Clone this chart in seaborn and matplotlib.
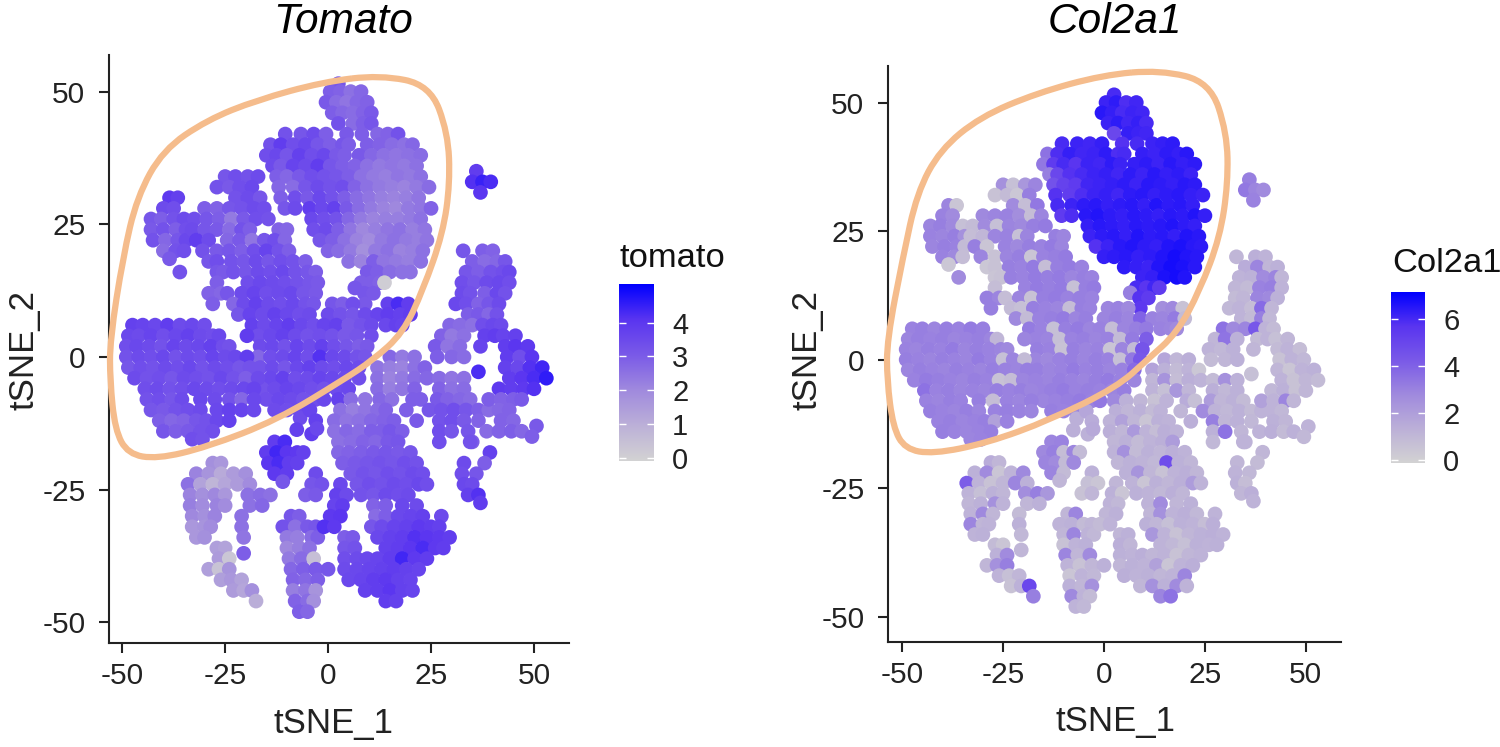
import numpy as np
import pandas as pd
import matplotlib
matplotlib.use("Agg")
import matplotlib.pyplot as plt
import seaborn as sns
from matplotlib.colors import LinearSegmentedColormap
from matplotlib.path import Path
from matplotlib.patches import PathPatch

sns.set_theme(style="ticks")
plt.rcParams['font.family'] = ['Liberation Sans', 'DejaVu Sans']
plt.rcParams['axes.unicode_minus'] = False

# Cells, cluster by cluster (one line = one row of cells)
top_x = [2.5, 0.5,3,5.5,8, -0.5,2,4.5,7,9.5, 1,3.5,6,8.5,10.5, 2.5,6,8.5,10.5]
top_y = [51.5] + [50]*4 + [48]*5 + [46]*5 + [44]*4
top_tomato = [3.2, 3.0,2.9,2.6,2.8, 3.1,2.7,2.5,2.8,2.9, 3.0,2.8,2.7,2.9,3.1, 3.3,2.7,3.0,3.2]
top_col2a1 = [6.0, 6.2,6.4,5.9,6.1, 6.5,6.3,6.0,6.2,6.1, 6.2,6.4,6.1,6.3,6.0, 5.0,6.3,6.2,6.1]

upper_x = [-10.4,-6.6,-3.5,-0.5,4.5,8.2,12,14.5,17,
    -14,-11.5,-8.5,-5.5,-2.5,0.5,3.5,5,9.5,12.5,15.5,18.5,20.5,
    -15,-12.5,-10,-7,-4,-1,2,4,7.5,10.5,13.5,16.5,19.5,22.5,
    -13.5,-11.5,-8.5,-5.5,-2.5,.5,3.5,6.5,9.5,12.5,15.5,18.5,21.5,
    -12.5,-10,-7,-4,-1,2,5,8,11,14,17,20,22.5,
    -12,-8.5,-5.5,-2.5,.5,3.5,6.5,9.5,12.5,15.5,18.5,21.5,24.5,
    -11.5,-8,-5,-2,1,4,7,10,13,16,19,22,
    -10.5,-8,-4.5,-1.5,1.5,4.5,7.5,10.5,13.5,16.5,19.5,22.5,25,
    -4,-1,2,5,8,11,14,17,20,22.5,
    -3.5,-.5,2.5,5.5,8.5,11.5,14.5,17.5,20.5,23.5,
    -2,1,4,7,10,13,16,19,22,24,
    0,2.5,5.5,8.5,11.5,14.5,17.5,20.5,23,
    5,8,11,13.5,16.5,19.5,22.5,
    9.5,12,15,18,20,
    8,10.5,12.5,13.7,
    6.5,
    8.8,11,
    9]
upper_y = ([42]*9 + [40]*13 + [38]*14 + [36]*13 + [34]*13 + [32]*13 + [30]*12 + [28]*13
           + [26]*10 + [24]*10 + [22]*10 + [20]*9 + [18]*7 + [16]*5 + [14]*4 + [13] + [12]*2 + [10])
upper_tomato = [3.3,3.2,3.5,3.0,3.1,3.0,2.8,2.9,3.3,
    3.3,3.9,3.4,3.6,3.2,3.0,3.2,3.0,3.0,2.9,2.7,2.6,2.8,
    3.4,3.6,3.2,3.8,3.4,3.6,3.1,3.0,3.1,2.8,2.6,2.5,2.6,2.7,
    3.5,3.1,3.7,3.5,3.9,3.2,3.0,2.9,2.6,2.4,2.5,2.4,2.6,
    3.0,2.8,3.1,3.4,3.3,3.2,3.0,2.6,2.4,2.3,2.5,2.4,2.6,
    2.8,2.7,3.2,3.5,3.3,3.4,2.9,2.6,2.4,2.3,2.2,2.4,2.7,
    3.0,3.4,3.1,3.6,3.3,3.0,2.7,2.5,2.3,2.2,2.3,2.5,
    3.2,3.5,3.9,3.6,3.8,3.1,2.7,2.4,2.2,2.1,2.4,2.5,2.9,
    3.6,3.4,3.3,2.8,2.4,2.2,2.3,2.3,2.4,2.6,
    3.4,3.5,3.0,2.5,2.1,2.3,2.5,2.6,2.3,2.5,
    3.2,3.0,2.6,2.2,2.0,2.4,2.6,2.4,2.3,2.5,
    2.9,2.7,2.4,1.9,2.4,2.6,2.2,2.3,2.6,
    2.6,2.2,3.0,2.5,2.4,2.3,2.6,
    3.1,3.0,2.7,2.6,2.6,
    3.0,3.0,2.9,0.2,
    3.2,
    3.2,3.1,
    3.1]
upper_col2a1 = [6.0,6.2,6.1,6.3,5.8,6.0,6.2,6.3,6.4,
    3.6,5.9,6.3,6.1,6.2,6.4,5.9,6.0,6.3,6.2,6.4,6.3,6.5,
    3.4,5.5,6.0,5.7,6.2,6.1,6.4,6.2,6.3,6.4,6.2,6.5,6.3,6.4,
    3.2,5.0,5.8,6.0,6.2,6.3,6.1,6.4,6.2,6.5,6.3,6.4,6.2,
    4.6,5.2,5.5,6.1,6.2,6.3,6.4,6.2,6.5,6.4,6.3,6.5,6.4,
    5.8,5.4,5.9,6.2,6.3,6.1,6.4,6.5,6.3,6.4,6.5,6.3,6.2,
    6.0,6.2,6.4,6.5,6.3,6.4,6.5,6.3,6.6,6.4,6.5,6.3,
    5.5,5.9,6.5,6.6,6.4,6.3,6.5,6.4,6.3,6.5,6.4,6.6,6.3,
    6.3,6.5,6.4,6.3,6.5,6.4,6.5,6.6,6.4,6.3,
    6.2,6.4,6.5,6.3,6.6,6.4,6.5,6.3,6.6,6.5,
    5.8,6.2,6.5,6.6,6.4,6.3,6.6,6.7,6.5,6.4,
    6.3,6.4,6.5,6.3,6.4,6.6,6.8,6.6,6.5,
    6.4,6.3,6.2,6.6,6.8,6.7,6.5,
    6.2,6.3,6.7,6.8,6.6,
    6.0,5.7,6.1,5.5,
    3.2,
    5.8,5.5,
    5.6]

lobe_x = [-38.5,-36.5, -40,-37.5, -43,-40.5,-37.5,-35, -43,-40,-37,-34.5, -42.5,-39.5,-36.5,-34.5, -40,-37,-35, -38.5]
lobe_y = [30]*2 + [28]*2 + [26]*4 + [24]*4 + [22]*4 + [20]*3 + [18.5]
lobe_tomato = [4.0,3.8, 3.5,3.4, 3.2,3.0,3.3,3.5, 3.1,3.3,3.0,3.4, 3.3,2.8,3.2,3.6, 2.7,3.3,3.4, 3.1]
lobe_col2a1 = [3.0,0.6, 3.1,2.8, 3.0,3.2,2.9,0.8, 3.1,3.0,3.2,2.6, 3.0,3.2,3.1,1.0, 3.1,2.9,0.9, 0.5]

mid_x = [-25,-22.5,-19.5,-17,
    -27,-24,-21.5,-18.5,
    -22.5,-19.5,-16.5,
    -30,-27,-24,-21,-18,-15.5,
    -32.5,-29.5,-26.5,-23.5,-20.5,-17.5,-14.5,
    -33,-30,-27,-24,-21,-19,-12,-10,
    -32,-29,-24.5,-21.5,-18.5,-15.5,-13,-10.5,
    -30.5,-27,-24,-21,-18,-15,-12,-9.5,
    -29,-27,-23.5,-20.5,-17.5,-14.5,-11.5,-8.5,-5.5,
    -36,-27,-25.5,-23,-20,-17,-14,-11,-8,-5,-3,
    -27,-19.5,-16.5,-13.5,-10.5,-7.5,-4.5,-2.5,
    -29,-26,-24.5,-21,-18,-15,-12,-9,-6,-3,
    -28,-23,-20.5,-17.5,-14.5,-11.5,-8.5,-5.5,-3.5,
    -21.8,-19,-16,-13,-10,-7,-4.5,
    -18.5,-15.5,-12.5,-9.5,-6.5,-3.5]
mid_y = ([34]*4 + [32]*4 + [30]*3 + [28]*6 + [26]*7 + [24]*8 + [22]*8 + [20]*8 + [18]*9
         + [16]*11 + [14]*8 + [12]*10 + [10]*9 + [8]*7 + [6]*6)
mid_tomato = [3.2,3.4,3.3,3.5,
    3.3,3.1,3.4,3.6,
    3.3,3.5,3.2,
    3.0,2.9,3.2,3.3,3.5,3.4,
    3.4,3.2,3.0,2.4,3.1,3.4,3.3,
    3.5,3.2,3.1,2.7,3.3,3.0,2.9,2.8,
    3.9,3.5,2.8,3.1,2.5,3.2,3.4,2.8,
    3.3,3.1,3.2,3.0,3.4,3.7,3.3,3.0,
    3.2,3.4,3.3,3.2,3.5,3.2,3.4,3.3,3.0,
    3.3,3.2,3.1,3.3,3.2,3.5,3.4,3.6,3.3,3.2,3.0,
    3.0,3.4,3.6,3.5,3.4,3.3,3.2,3.1,
    2.9,2.8,3.2,3.5,3.7,3.4,3.5,3.6,3.2,3.1,
    3.0,2.8,3.5,3.8,3.5,3.4,3.6,3.3,3.2,
    3.2,3.7,3.5,3.8,3.6,3.4,3.5,
    3.8,3.5,3.7,3.9,3.6,3.4]
mid_col2a1 = [2.6,0.8,2.4,3.0,
    0.7,1.0,0.5,3.2,
    2.8,0.9,3.4,
    2.9,3.0,3.1,2.7,0.9,3.0,
    1.0,2.8,0.8,3.0,2.9,3.2,3.3,
    0.9,1.2,3.0,3.1,0.8,3.0,3.2,3.0,
    3.2,0.6,3.1,2.9,3.2,3.1,3.3,3.0,
    3.0,0.7,3.0,3.2,0.6,3.1,3.2,3.3,
    0.5,0.7,3.2,3.1,3.3,0.9,3.2,3.3,3.1,
    2.8,0.6,0.7,3.2,3.1,3.3,3.2,3.3,3.0,3.2,3.1,
    0.9,3.1,3.3,3.2,3.3,0.8,3.2,3.3,
    3.2,3.0,0.9,3.0,0.7,3.2,3.3,3.1,3.2,3.1,
    3.2,1.0,0.8,3.2,3.1,3.0,0.9,3.2,3.1,
    2.9,1.0,3.1,3.2,3.3,3.0,3.2,
    3.3,3.1,0.8,3.2,3.3,3.0]

center_x = [1,3.5,6,14.5,17,19.5,
    0,3,6,9,12,14.5,17.5,20,
    -1,2,5,8,10.5,14,16.5,18,
    -17,-14,-11,-8,-5,-2,1,4,7,10.5,
    -16.5,-13.5,-10.5,-7.5,-4.5,-1.5,1.5,4.5,7.5,9.5,
    -17,-14,-11,-8,-5,-2,1,4,7,9,
    -16.5,-13.5,-10.5,-7.5,-4.5,-1.5,1.5,4.5,7.5,
    -14,-11,-8,-5,-2,1,4,7.5,
    -16,-13,-10,-7,-4,-1,2,5,
    -15,-12,-9,-6,-3,-1,2.5,
    -13,-10,-7,-4.5]
center_y = ([10]*6 + [8]*8 + [6]*8 + [4]*10 + [2]*10 + [0]*10 + [-2]*9 + [-4]*8 + [-6]*8 + [-8]*7 + [-10]*4)
center_tomato = [3.2,3.0,3.4,3.8,4.3,3.9,
    3.5,3.3,3.2,3.5,3.7,3.9,3.8,3.9,
    3.7,3.8,3.1,3.3,3.5,3.6,3.8,3.7,
    3.4,3.6,3.8,3.5,3.3,3.4,3.3,3.1,3.2,3.4,
    3.5,3.6,3.3,3.7,3.5,3.8,3.4,3.2,3.0,3.1,
    2.8,3.4,3.5,3.7,3.4,4.2,3.6,3.5,3.3,3.2,
    3.3,3.5,3.2,3.6,3.8,3.5,3.4,3.6,3.5,
    3.6,3.8,3.4,3.5,3.7,3.6,3.5,3.4,
    3.3,3.5,3.7,3.6,3.4,3.3,3.5,3.6,
    3.4,3.6,3.5,3.3,3.4,3.6,3.8,
    3.5,3.4,3.6,3.7]
center_col2a1 = [3.0,3.1,2.9,2.7,2.9,0.7,
    3.0,3.2,3.0,4.0,3.1,3.0,3.3,1.0,
    3.1,0.9,3.0,3.2,3.3,3.1,3.0,2.8,
    3.1,3.0,0.8,3.1,3.2,3.0,3.1,1.0,3.3,4.2,
    3.2,3.1,0.7,3.2,3.0,3.1,0.6,3.0,1.0,4.5,
    3.0,2.9,3.1,3.2,3.0,3.2,3.1,0.8,3.4,4.4,
    3.2,3.0,3.1,3.3,3.1,3.2,3.0,3.1,3.8,
    3.0,3.2,3.1,3.0,3.2,3.3,3.1,3.0,
    3.1,3.2,3.3,3.1,3.2,3.1,3.0,3.2,
    3.0,3.1,3.2,3.3,3.1,3.4,2.9,
    3.2,3.1,3.0,3.1]

low_x = [-47.5,-45,-42,-39,-36,-33,-30,
    -48.5,-46,-43,-40,-37,-34,-31,-28,-26.5,-19.7,
    -49,-46.5,-43.5,-40.5,-37.5,-34.5,-31.5,-28.5,-25.5,-24,
    -49,-46,-43,-40,-37,-34,-31,-28,-25,-22.5,-19.7,
    -48.5,-45.5,-42.5,-39.5,-36.5,-33.5,-30.5,-27.5,-24.5,-21.5,-19,
    -47,-44,-41,-38,-35,-32,-29,-26,-23,-20,-17,
    -44.5,-41.5,-38.5,-35.5,-32.5,-29.5,-26.5,-23.5,-20.5,-18,
    -44,-41,-38,-35.5,-31,-27.5,-24,-21,-18,
    -43,-40,-37,-34,-31,-27,-24,-21,-18,
    -41,-38,-35,-32,-29.5,-27,-24,
    -40,-37,-34,-31,-28,
    -33,-30.5]
low_y = ([6]*7 + [4]*10 + [2]*10 + [0]*11 + [-2]*11 + [-4]*11 + [-6]*10 + [-8]*9 + [-10]*9 + [-12]*7 + [-14]*5 + [-15.5]*2)
low_tomato = [3.8,3.7,3.6,3.9,3.5,3.6,3.4,
    3.6,3.5,3.7,3.4,3.6,3.8,3.5,3.4,3.6,3.9,
    3.4,3.6,3.5,3.3,3.7,3.5,3.6,3.8,3.4,3.3,
    3.3,3.5,3.4,3.6,3.3,3.5,3.4,3.7,3.5,3.6,3.9,
    3.2,3.4,3.3,3.5,3.4,3.6,3.3,3.5,3.4,3.2,3.3,
    3.5,3.3,3.4,3.2,3.5,3.4,3.3,3.6,3.3,3.0,3.5,
    3.4,3.5,3.3,3.4,3.6,3.5,3.4,3.5,3.6,3.7,
    3.3,3.4,3.2,3.5,3.6,3.5,3.3,2.8,3.6,
    3.2,3.1,3.3,3.4,3.5,3.6,3.8,3.7,3.6,
    3.0,2.8,2.9,3.2,3.3,3.6,3.8,
    3.2,3.0,3.1,3.3,3.4,
    3.4,3.3]
low_col2a1 = [3.1,3.2,3.0,3.2,3.1,3.3,3.2,
    3.0,3.2,3.1,3.2,3.0,3.1,3.2,3.0,1.2,3.0,
    3.1,3.0,3.2,3.1,3.3,3.0,3.2,3.1,3.0,2.9,
    3.2,3.1,3.0,3.2,3.1,3.0,3.3,3.1,0.8,3.0,1.0,
    3.0,3.2,3.1,3.0,3.2,3.1,3.0,3.2,3.1,3.0,3.2,
    3.1,3.3,3.2,3.1,3.0,3.2,3.1,0.7,0.9,3.0,3.1,
    3.6,3.1,3.2,3.0,3.1,3.0,3.2,3.1,3.2,3.0,
    3.1,3.0,3.2,3.1,3.2,0.9,3.1,3.0,3.2,
    3.2,3.1,3.0,3.2,3.0,3.1,3.2,3.1,3.0,
    3.1,3.2,3.0,3.1,3.2,2.0,3.1,
    3.2,3.1,3.0,3.1,3.2,
    3.0,3.1]

gap_x = [-6.8,-4.4,-3,-4,-2.7,-7.6]
gap_y = [-11.5,-10,-12,-14.5,-13.5,-13.7]
gap_tomato = [3.5,3.7,3.8,3.9,3.6,3.8]
gap_col2a1 = [1.5,1.8,1.6,1.4,1.7,1.5]

small_x = [-13,-10.5, -15,-12.5,-10,-7.5,-6, -14.5,-12,-9.5,-7.5, -13,-10, -11]
small_y = [-16]*2 + [-18]*5 + [-20]*4 + [-22]*2 + [-23.5]
small_tomato = [3.9,4.3,3.9,4.4,4.1,4.0,3.8,4.1,4.3,3.9,3.8,4.0,3.9,3.2]
small_col2a1 = [3.0,3.1,2.9,3.2,0.9,3.0,1.0,3.0,2.8,1.0,2.9,3.0,1.0,1.2]

right_x = [15,18,21,
    12,15,18,21,23.5,
    12,15,18,21,24,27,30,33,
    12,15,18,21,27,30,33,
    5.5,9,12.5,15.5,20.5,22.5,26.5,29,32,34.5,
    3,6,9,12,14,19,24.5,27.5,30.5,33.5,36.5,39,
    1.5,4.5,7.5,10.5,13.5,16,21.5,27,30,33,36.5,
    1.5,4.5,7.5,10.5,13,15,18,27,30,34,
    2.5,5.5,8.5,11.5,14.5,17,27,35,
    2.5,5,8,11,14,17,20,
    3.5,6.5,9.5,12.5,15.5,18.5,21.5,
    5.5,8.5,11.5,14.5,17.5,20.5,23,
    7,10,13,16,19,22,24,
    8,11,14,17,19.5,
    11,14,18,21.5,
    11.5,14,17,20,23,27.5,
    10.5,13,16,19,22,25,27,
    4,6,12,15,18,21,24,27,29.5,
    4,6.5,14,17,20,23,26,28,
    4,7,9.5,12,15,18,21,24,
    4,7,10,13,16,19,22,
    5,8,11,14,17,20,
    9,12,15,18,20.5,
    14,16.5]
right_y = ([0]*3 + [-2]*5 + [-4]*8 + [-6]*7 + [-8]*10 + [-10]*12 + [-12]*11 + [-14]*10 + [-16]*8 + [-18]*7
           + [-20]*7 + [-22]*7 + [-24]*7 + [-26]*5 + [-28]*4 + [-30]*6 + [-32]*7 + [-34]*9 + [-36]*8
           + [-38]*8 + [-40]*7 + [-42]*6 + [-44]*5 + [-46]*2)
right_tomato = [2.8,2.4,2.6,
    2.5,2.3,2.2,2.6,2.9,
    2.6,2.2,2.4,2.7,2.8,2.7,2.5,2.6,
    2.7,2.3,2.5,2.9,2.9,2.6,2.7,
    2.7,2.5,2.8,2.6,3.0,3.0,3.1,2.9,2.8,2.7,
    2.6,2.3,2.5,2.7,2.9,3.0,3.2,3.3,3.4,3.2,3.0,2.7,
    2.7,2.5,2.6,2.8,2.9,3.0,3.1,3.3,3.4,3.1,2.9,
    2.6,2.8,2.7,3.0,3.0,3.2,3.0,3.4,3.2,3.2,
    2.6,2.7,2.9,2.8,3.1,3.2,3.4,3.0,
    2.8,2.9,3.0,3.1,3.2,3.1,3.2,
    3.0,3.1,3.2,3.3,3.2,3.4,3.3,
    3.1,3.3,3.2,3.4,3.3,3.5,3.4,
    3.2,3.4,3.3,3.5,3.4,3.6,3.4,
    3.3,3.2,3.5,3.4,3.5,
    2.9,3.0,3.6,3.5,
    2.7,3.0,3.6,3.7,3.8,3.5,
    3.2,3.5,3.7,3.8,4.0,3.9,3.8,
    3.0,3.1,3.6,3.8,3.9,4.2,4.1,4.0,3.9,
    3.2,3.3,3.8,3.9,4.1,4.3,4.0,3.9,
    3.4,3.5,3.6,3.7,3.9,4.4,4.0,3.9,
    3.5,3.6,3.7,3.8,3.9,3.8,3.7,
    3.6,3.7,3.9,4.0,3.8,3.7,
    3.8,3.9,4.1,3.8,3.7,
    3.9,3.8]
right_col2a1 = [1.8,1.2,1.5,
    1.9,1.4,1.0,1.3,0.5,
    1.2,2.5,0.9,1.5,1.3,1.0,2.6,1.4,
    1.3,0.8,2.4,1.2,1.5,1.1,1.4,
    1.4,1.2,0.7,1.3,1.6,0.8,2.2,1.2,1.4,1.0,
    1.5,1.2,1.4,1.0,1.3,1.2,2.8,1.3,1.1,1.4,1.0,1.3,
    1.3,2.0,1.2,0.6,1.4,1.3,1.5,3.2,1.2,1.4,1.1,
    1.5,1.2,2.3,1.3,0.9,1.5,1.3,1.4,3.6,1.2,
    1.2,1.4,1.0,1.3,1.5,2.2,1.1,1.3,
    1.3,2.6,1.0,1.4,1.2,1.5,1.3,
    1.2,1.4,1.3,1.1,4.8,1.4,1.2,
    1.4,2.5,1.2,0.7,1.3,1.5,1.2,
    1.3,0.6,1.4,1.2,1.5,2.2,1.3,
    1.4,1.3,1.1,1.5,1.2,
    1.3,2.8,1.2,1.4,
    1.2,2.6,1.3,1.5,1.1,1.3,
    1.4,1.2,0.8,1.4,1.3,0.9,1.5,
    1.2,1.4,2.4,1.3,0.7,1.2,1.4,1.5,1.3,
    1.5,1.2,1.3,1.1,0.8,1.4,1.3,1.4,
    1.4,1.3,1.5,1.2,1.3,0.7,1.2,1.3,
    1.2,1.4,1.3,2.0,0.6,1.3,1.5,
    1.5,1.3,1.4,1.2,1.3,3.0,
    1.2,2.6,1.4,2.8,1.3,
    3.0,3.6]

east_x = [32.8,37.5,40,
    35,38,41,43,
    33.5,36.5,39.5,42.5,44,
    32.5,35.5,38.5,41.5,44,
    32.5,34.5,38,41,43,
    31,33.5,36.5,39,41.5,
    34,36.5,39,41,
    29.5,32,35,37.5,40,42,
    27.5,30,33,38,40.5,42.5,45.5,
    26,29,32,37,43,45.5,48.5,
    26.5,30,33,43.5,46.5,49.5,
    43,46,49,52, 36.5,
    44,47,50,53,
    41.5,44.5,47.5,50,
    39,42,45,47,
    41.5,44,
    42,45,
    38.5,41.5,44.5,47,50.6,
    49.5,
    39.3,34.5]
east_y = ([20]*3 + [18]*4 + [16]*5 + [14]*5 + [12]*5 + [10]*5 + [8]*4 + [6]*6 + [4]*7 + [2]*7 + [0]*6
          + [-2]*4 + [-2.8] + [-4]*4 + [-6]*4 + [-8]*4 + [-10]*2 + [-12]*2 + [-14]*4 + [-13] + [-15] + [-18] + [-16])
east_tomato = [3.2,3.0,2.9,
    3.0,2.7,2.8,3.2,
    3.2,3.0,3.3,3.4,3.6,
    3.4,3.2,3.5,3.6,3.4,
    3.5,3.3,3.0,3.6,3.3,
    3.6,3.4,2.9,3.2,3.5,
    3.0,3.1,2.8,3.3,
    2.8,2.7,2.6,3.4,3.6,3.5,
    2.9,2.4,2.6,3.8,3.9,3.7,3.8,
    3.1,2.5,2.7,3.7,3.9,4.1,4.0,
    3.0,2.8,2.7,3.9,3.4,4.1,
    3.8,3.6,4.2,4.4,4.3,
    3.9,4.1,4.3,4.6,
    4.0,3.9,4.0,4.2,
    3.0,2.9,3.0,3.1,
    2.8,2.9,
    2.9,2.8,
    2.7,2.9,3.0,2.8,3.1,
    3.0,
    3.8,3.3]
east_col2a1 = [1.2,1.5,1.3,
    1.6,3.0,1.2,1.4,
    1.3,1.4,2.8,3.0,1.2,
    1.2,1.0,3.1,3.2,1.3,
    1.0,1.2,3.0,2.9,1.4,
    1.1,1.3,0.9,3.8,1.2,
    1.3,1.0,3.2,1.1,
    3.6,2.9,3.0,4.4,1.3,1.0,
    1.2,3.5,1.4,1.0,1.3,0.8,1.2,
    1.3,1.1,1.4,1.2,1.0,1.3,0.9,
    1.0,1.2,1.4,0.7,1.3,1.1,
    1.2,0.6,1.3,1.4,0.8,
    1.3,0.7,1.2,1.0,
    1.1,1.4,0.7,1.2,
    2.0,1.3,3.0,1.2,
    1.3,1.1,
    1.4,1.2,
    1.3,1.5,1.0,1.4,1.3,
    1.1,
    1.2,1.3]

spot_x = [36,35,37.5,39.5,37]
spot_y = [35,33,33,33,31]
spot_tomato = [3.9,4.2,4.5,4.3,4.1]
spot_col2a1 = [3.2,3.4,3.0,2.8,3.1]

arc_x = [-28,-26,
    -32,-29,-26,-23,-20,
    -34,-31,-28,-25,-22,-19,
    -33.5,-30.5,-27.5,-25,-19.5,-16.5,-14,
    -33.5,-30.5,-27,-25,-19,-16,
    -33,-30,-27.5,-21,
    -33,-30,-28.5,-21,
    -32,-30,-20.5,-20.5]
arc_y = [-20]*2 + [-22]*5 + [-24]*6 + [-26]*7 + [-28]*6 + [-30]*4 + [-32]*4 + [-34]*3 + [-37]
arc_tomato = [1.9,1.7,
    2.2,1.8,1.2,1.6,1.9,
    2.6,1.4,0.9,1.3,1.6,2.0,
    2.2,1.9,2.1,1.7,2.6,2.7,2.6,
    2.3,2.0,2.2,2.0,2.6,2.8,
    2.1,1.9,2.2,2.6,
    1.7,1.8,2.0,2.6,
    1.7,1.9,2.5,3.0]
arc_col2a1 = [1.6,1.2,
    1.4,2.8,0.6,1.3,2.9,
    4.2,1.3,0.7,1.2,3.0,1.4,
    1.3,0.8,1.4,1.2,2.7,3.2,2.4,
    1.2,1.4,2.6,1.3,1.2,1.4,
    1.3,2.9,1.2,1.0,
    3.0,1.2,1.3,1.4,
    1.3,1.4,1.1,1.2]

tail_x = [-27,-25, -26.5,-24, -29,-26.5,-24, -26,-23.5,-21, -23,-20.5,-18.5, -17.5]
tail_y = [-36]*2 + [-38]*2 + [-40]*3 + [-42]*3 + [-44]*3 + [-46]
tail_tomato = [1.5,1.4,1.6,0.4,1.5,0.5,1.8,1.5,1.7,1.4,1.6,1.3,1.9,1.1]
tail_col2a1 = [1.0,0.6,1.4,2.8,1.2,2.6,3.2,1.3,0.8,1.2,0.7,1.4,5.0,3.2]

foot_x = [-9,-7,
    -11,-8,-5,-3,
    -10,-7.5,-4,-2.5,
    -10,-7,-4.5,
    -9.5,-6.5,-3.5,
    -9,-6,-3,0,
    -8.5,-5.5,-2.5,
    -8.5,-5.5,-3,
    -8,-5,-3.5,
    -7,-5]
foot_y = [-30]*2 + [-32]*4 + [-34]*4 + [-36]*3 + [-38]*3 + [-40]*4 + [-42]*3 + [-44]*3 + [-46]*3 + [-48]*2
foot_tomato = [3.2,3.0, 3.3,2.6,3.1,3.2, 2.4,2.3,2.7,3.0, 2.1,2.3,2.6, 2.4,2.7,0.6, 2.8,3.0,3.1,3.2, 2.9,2.8,3.0, 2.3,2.5,1.8, 2.9,2.7,1.9, 3.0,2.8]
foot_col2a1 = [1.2,3.0, 1.3,1.4,1.0,1.2, 1.2,3.0,1.3,1.1, 0.7,1.3,1.4, 3.0,1.2,2.8, 1.3,0.7,1.2,1.4, 0.6,1.3,1.1, 1.4,1.2,2.6, 2.9,1.3,1.0, 1.3,1.1]

sliver_x = [3, 2,4.5, 1.5,3.5, 0.5,3, -1,1.5, -3, -4,-1.5, -5.5,-3]
sliver_y = [-24, -26,-26, -28,-28, -30,-30, -32,-32, -22, -24,-24, -26,-26]
sliver_tomato = [3.6,3.8,3.5,3.7,3.9,4.0,4.1,4.2,4.0,3.5,3.2,3.3,3.0,3.1]
sliver_col2a1 = [1.2,1.4,0.6,1.3,1.1,1.2,1.4,1.0,1.3,1.4,0.8,0.6,0.7,1.2]

hook_x = [33,38, 32.5,36, 33,35, 34,36.5, 37]
hook_y = [-20,-20, -22,-22, -24,-24, -26,-26, -27.5]
hook_tomato = [3.5,3.0,3.4,3.2,3.6,3.5,3.8,4.2,3.9]
hook_col2a1 = [1.2,1.0,1.3,1.1,1.4,0.9,1.2,1.5,1.3]

clusters = [
    (top_x, top_y, top_tomato, top_col2a1),
    (upper_x, upper_y, upper_tomato, upper_col2a1),
    (lobe_x, lobe_y, lobe_tomato, lobe_col2a1),
    (mid_x, mid_y, mid_tomato, mid_col2a1),
    (center_x, center_y, center_tomato, center_col2a1),
    (low_x, low_y, low_tomato, low_col2a1),
    (gap_x, gap_y, gap_tomato, gap_col2a1),
    (small_x, small_y, small_tomato, small_col2a1),
    (right_x, right_y, right_tomato, right_col2a1),
    (east_x, east_y, east_tomato, east_col2a1),
    (spot_x, spot_y, spot_tomato, spot_col2a1),
    (arc_x, arc_y, arc_tomato, arc_col2a1),
    (tail_x, tail_y, tail_tomato, tail_col2a1),
    (foot_x, foot_y, foot_tomato, foot_col2a1),
    (sliver_x, sliver_y, sliver_tomato, sliver_col2a1),
    (hook_x, hook_y, hook_tomato, hook_col2a1),
]
rows = []
for c in clusters:
    rows += list(zip(*c))
df = pd.DataFrame(rows, columns=["tSNE_1", "tSNE_2", "tomato", "Col2a1"])

ticks = [-50, -25, 0, 25, 50]
bar_ticks_tomato = [0, 1, 2, 3, 4]
bar_ticks_col2a1 = [0, 2, 4, 6]

# lightgrey to blue, like the Seurat feature plot
feature_cmap = LinearSegmentedColormap.from_list(
    "feature", ["#d3d3d3", "#bcb0d8", "#a08ade", "#7a5ae8", "#5a35f0", "#0000ff"])

W, H = 1500, 747
fig = plt.figure(figsize=(W / 100, H / 100), dpi=100)


def add_axes_px(left, top, right, bottom):
    return fig.add_axes([left / W, 1 - bottom / H, (right - left) / W, (bottom - top) / H])


def feature_panel(box, xlim, ylim, column, vmax, title, title_x):
    ax = add_axes_px(*box)
    sns.scatterplot(data=df, x="tSNE_1", y="tSNE_2", hue=column, palette=feature_cmap,
                    hue_norm=(0, vmax), s=112, linewidth=0, legend=False, ax=ax)
    ax.set_xlim(xlim)
    ax.set_ylim(ylim)
    ax.set_xticks(ticks)
    ax.set_yticks(ticks)
    ax.tick_params(labelsize=21.5, length=7, width=1.5, color="#222222", labelcolor="#222222")
    ax.tick_params(axis="x", pad=7)
    ax.tick_params(axis="y", pad=10)
    sns.despine(ax=ax)
    for s in ["left", "bottom"]:
        ax.spines[s].set_linewidth(1.5)
        ax.spines[s].set_color("#222222")
    ax.set_xlabel("tSNE_1", fontsize=25, color="#222222")
    ax.set_ylabel("tSNE_2", fontsize=25, color="#222222")
    fig.text(title_x / W, 1 - 33 / H, title, fontsize=30.5, style="italic", color="black", ha="center", va="baseline")
    return ax


def color_bar(box, vmax, bottom_val, bar_ticks, title, title_px):
    cax = add_axes_px(*box)
    grad = np.linspace(0, 1, 256)[::-1].reshape(-1, 1)
    cax.imshow(grad, cmap=feature_cmap, aspect="auto", extent=(0, 1, bottom_val, vmax), vmin=0, vmax=1)
    cax.set_xticks([])
    cax.set_yticks(bar_ticks)
    cax.yaxis.tick_right()
    cax.tick_params(axis="y", direction="in", left=True, right=True, color="white",
                    length=5, width=1, labelsize=21, labelcolor="#222222", pad=13)
    for s in cax.spines.values():
        s.set_visible(False)
    fig.text(title_px[0] / W, 1 - title_px[1] / H, title, fontsize=24.8, color="#111111", va="baseline")


ax1 = feature_panel((109, 55, 569, 643), (-53.2, 58.5), (-53.9, 56.9), "tomato", 5.15, "Tomato", 343)
ax2 = feature_panel((888, 66, 1341, 642), (-53.5, 58.7), (-54.9, 57.1), "Col2a1", 7.15, "Col2a1", 1115)

ax1.xaxis.set_label_coords((334 - 109) / 460, -(707 - 643) / 588)
ax1.yaxis.set_label_coords(-(109 - 41) / 460, (643 - 350) / 588)
ax2.xaxis.set_label_coords((1115 - 888) / 453, -(705 - 642) / 576)
ax2.yaxis.set_label_coords(-(888 - 824) / 453, (642 - 350) / 576)

color_bar((619, 284, 654, 461), 5.15, -0.1, bar_ticks_tomato, "tomato", (620, 267))
color_bar((1391, 292, 1425, 463), 7.15, -0.13, bar_ticks_col2a1, "Col2a1", (1392, 272))

# hand-drawn outlines around the marked cell group (image pixels)
outline_left = [(380,75),(430,85),(448,133),(450,183),(443,233),(423,290),(403,333),(373,360),
                (343,380),(277,420),(207,447),(157,459),(128,454),(115,430),(110,380),(110,340),
                (123,257),(137,197),(163,150),(207,120),(257,100),(323,82)]
outline_right = [(1160,70),(1210,82),(1227,133),(1228,183),(1220,237),(1200,290),(1177,333),(1147,360),
                 (1117,387),(1050,420),(987,443),(933,454),(905,449),(893,427),(887,380),(887,340),
                 (903,257),(917,193),(940,150),(980,117),(1037,93),(1103,75)]


def outline_patch(points):
    verts = [((points[-1][0] + points[0][0]) / 2, (points[-1][1] + points[0][1]) / 2)]
    codes = [Path.MOVETO]
    for i, p in enumerate(points):
        n = points[(i + 1) % len(points)]
        verts += [p, ((p[0] + n[0]) / 2, (p[1] + n[1]) / 2)]
        codes += [Path.CURVE3, Path.CURVE3]
    verts = [(x / W, 1 - y / H) for x, y in verts]
    return PathPatch(Path(verts, codes), fill=False, edgecolor="#f5bc8c", linewidth=4.5,
                     transform=fig.transFigure, zorder=5)


fig.add_artist(outline_patch(outline_left))
fig.add_artist(outline_patch(outline_right))

fig.savefig("out.png", dpi=100)
